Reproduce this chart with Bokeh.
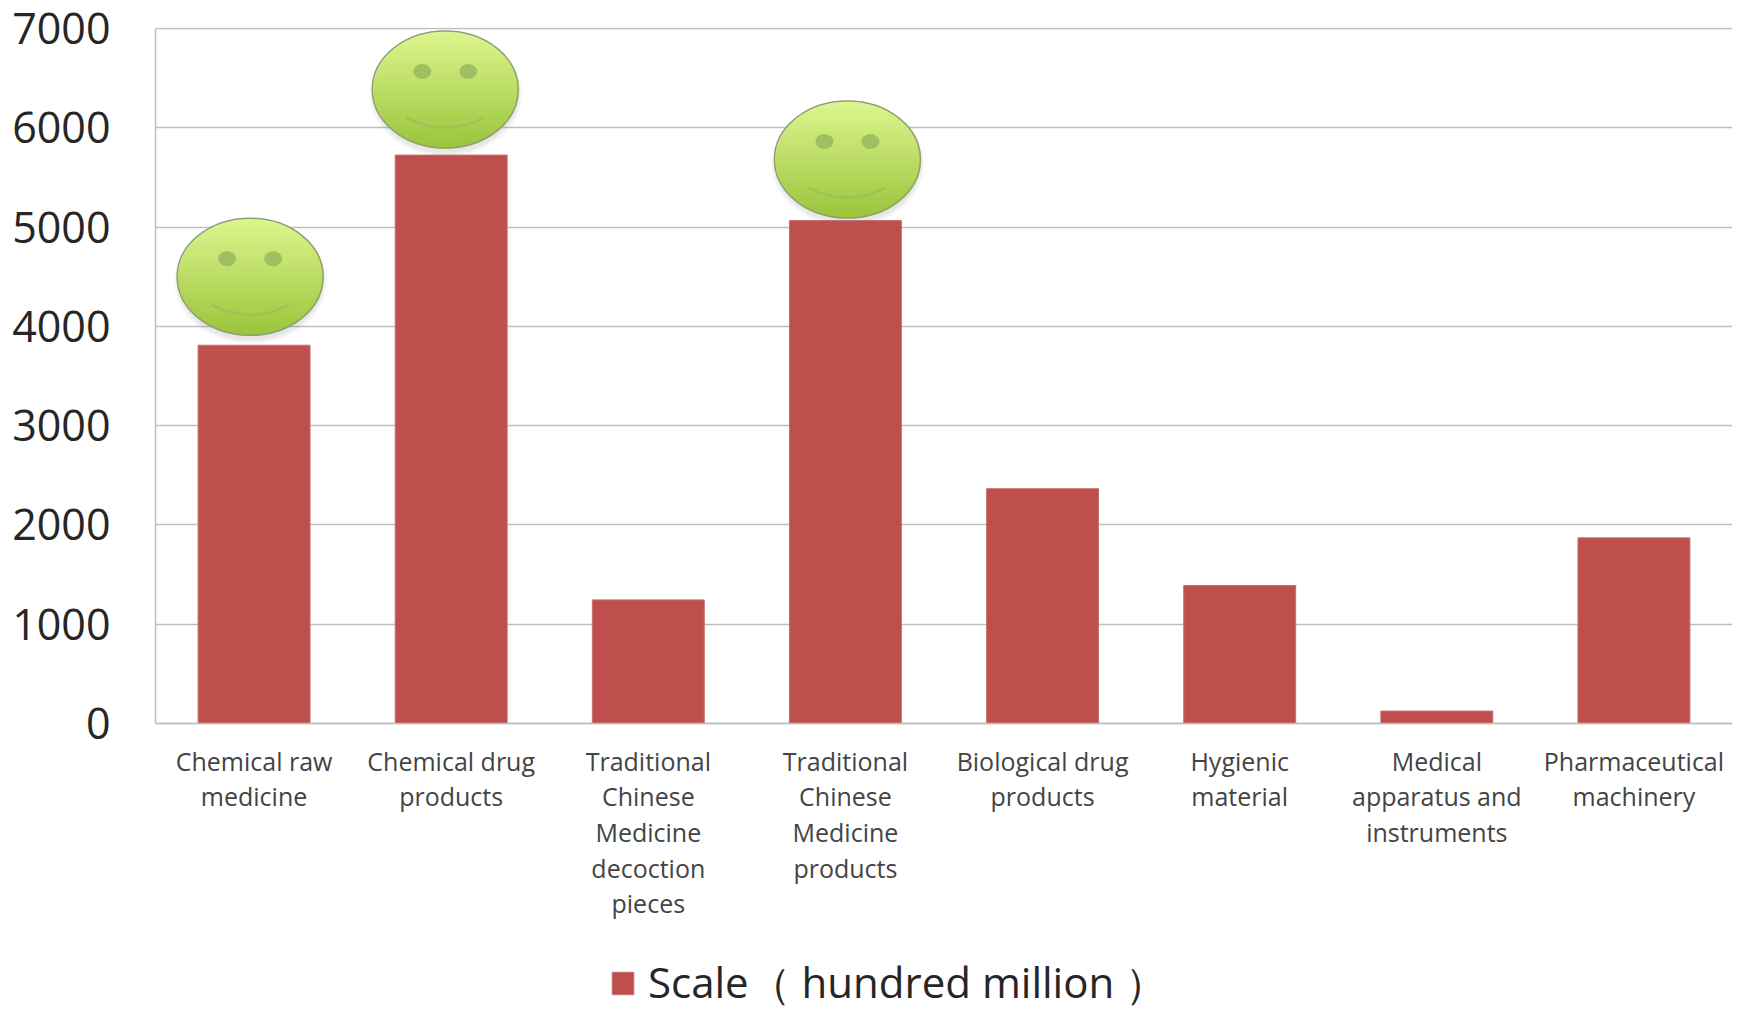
import numpy as np
from bokeh.embed import file_html
from bokeh.resources import INLINE
from bokeh.plotting import figure
from bokeh.models import FixedTicker, Range1d, Legend, LegendItem

categories = [
    "Chemical raw\nmedicine",
    "Chemical drug\nproducts",
    "Traditional\nChinese\nMedicine\ndecoction\npieces",
    "Traditional\nChinese\nMedicine\nproducts",
    "Biological drug\nproducts",
    "Hygienic\nmaterial",
    "Medical\napparatus and\ninstruments",
    "Pharmaceutical\nmachinery",
]
scale_values = [3810, 5725, 1245, 5065, 2365, 1390, 125, 1870]
y_ticks = [0, 1000, 2000, 3000, 4000, 5000, 6000, 7000]
legend_text = "Scale\uff08 hundred million \uff09"

# smiley decorations sitting on the three largest bars
smiley_x = [-0.02, 0.97, 3.01]
smiley_y = [4500, 6385, 5680]

FONT = "Open Sans"
W, H = 1736, 1012
FRAME_W = 1577
PLOT_H = 696      # height of the 0..Y_TOP part of the frame
FRAME_H = 985     # the frame runs on below zero to hold the axis labels and legend
Y_TOP = 7010
px_x = 8 / FRAME_W        # data units per pixel
px_y = Y_TOP / PLOT_H
Y_BOTTOM = -(FRAME_H - PLOT_H) * px_y

p = figure(width=W, height=H, output_backend="svg", toolbar_location=None,
           x_range=Range1d(-0.5, 7.5), y_range=Range1d(Y_BOTTOM, Y_TOP),
           frame_width=FRAME_W, frame_height=FRAME_H,
           min_border_left=155, min_border_right=4, min_border_top=27, min_border_bottom=0)
p.outline_line_color = None
p.background_fill_color = "white"

xs = list(range(len(categories)))
bars = p.vbar(x=xs, top=scale_values, width=0.568, bottom=0, fill_color="#BE4F4D", line_color="#C8706E", line_width=1)

# face shading
def face_image(w=180, h=150, ew=146, eh=117):
    yy, xx = np.mgrid[0:h, 0:w].astype(float)
    cx, cy = w / 2, h / 2
    r = np.sqrt(((xx - cx) / (ew / 2)) ** 2 + ((yy - cy) / (eh / 2)) ** 2)
    face_a = np.clip((1 - r) * ew / 2 + 0.5, 0, 1)
    t = np.clip((yy - (cy - eh / 2)) / eh, 0, 1)[..., None]
    top, bottom = np.array([222, 246, 142.0]), np.array([154, 197, 60.0])
    rgb = top * (1 - t) + bottom * t
    rs = np.sqrt(((xx - cx) / (ew / 2)) ** 2 + ((yy - cy - 4) / (eh / 2 + 1)) ** 2)
    shadow_a = np.clip((1.06 - rs) / 0.08, 0, 1) * 0.18
    a = face_a + shadow_a * (1 - face_a)
    out = rgb * face_a[..., None] + 120 * (shadow_a * (1 - face_a))[..., None]
    out = out / np.maximum(a[..., None], 1e-4)
    img = np.zeros((h, w), dtype=np.uint32)
    v = img.view(dtype=np.uint8).reshape((h, w, 4))
    v[..., :3] = np.clip(out, 0, 255).astype(np.uint8)
    v[..., 3] = (a * 255).astype(np.uint8)
    return img[::-1]

img = face_image()
ih, iw = img.shape
p.image_rgba(image=[img] * len(smiley_x),
             x=[x - iw / 2 * px_x for x in smiley_x],
             y=[y - ih / 2 * px_y for y in smiley_y],
             dw=iw * px_x, dh=ih * px_y)
p.ellipse(x=smiley_x, y=smiley_y, width=146, height=117, width_units="screen", height_units="screen",
          fill_color=None, line_color="#8FA070", line_width=1.5)
eye_x = [x + s * 23 * px_x for x in smiley_x for s in (-1, 1)]
eye_y = [y + 18 * px_y for y in smiley_y for _ in (0, 1)]
p.ellipse(x=eye_x, y=eye_y, width=18, height=15, width_units="screen", height_units="screen",
          fill_color="#A0BF62", line_color=None)
u = np.linspace(-1, 1, 25)
p.multi_line(xs=[list(x + u * 39 * px_x) for x in smiley_x],
             ys=[list(y - (28 + 10 * (1 - u ** 2)) * px_y) for y in smiley_y],
             line_color="#9CBF58", line_width=2.5, line_alpha=0.85)

# axes
p.xgrid.visible = False
p.ygrid.ticker = FixedTicker(ticks=y_ticks)
p.ygrid.grid_line_color = "#BEBEBE"
p.ygrid.grid_line_width = 1.5

p.yaxis.ticker = FixedTicker(ticks=y_ticks)
p.yaxis.bounds = (0, 7000)
p.yaxis.axis_line_color = "#BEBEBE"
p.yaxis.axis_line_width = 1.5
p.yaxis.major_tick_line_color = None
p.yaxis.minor_tick_line_color = None
p.yaxis.major_tick_out = 0
p.yaxis.major_label_standoff = 45
p.yaxis.major_label_text_font = FONT
p.yaxis.major_label_text_font_size = "43px"
p.yaxis.major_label_text_color = "#262626"

p.xaxis.fixed_location = 0
p.xaxis.ticker = FixedTicker(ticks=xs)
p.xaxis.major_label_overrides = {i: c for i, c in enumerate(categories)}
p.xaxis.axis_line_color = "#BEBEBE"
p.xaxis.axis_line_width = 1.5
p.xaxis.major_tick_line_color = None
p.xaxis.minor_tick_line_color = None
p.xaxis.major_tick_out = 0
p.xaxis.major_label_standoff = 20
p.xaxis.major_label_text_font = FONT
p.xaxis.major_label_text_font_size = "25px"
p.xaxis.major_label_text_color = "#444444"
p.xaxis.major_label_text_line_height = 1.05

legend = Legend(items=[LegendItem(label=legend_text, renderers=[bars])],
                location=(454, 0), border_line_color=None, background_fill_alpha=0,
                label_text_font=FONT, label_text_font_size="42px", label_text_color="#262626",
                glyph_width=27, glyph_height=28, margin=0, padding=0, label_standoff=12)
p.add_layout(legend, "center")

open("out.html", "w").write(file_html(p, INLINE))
